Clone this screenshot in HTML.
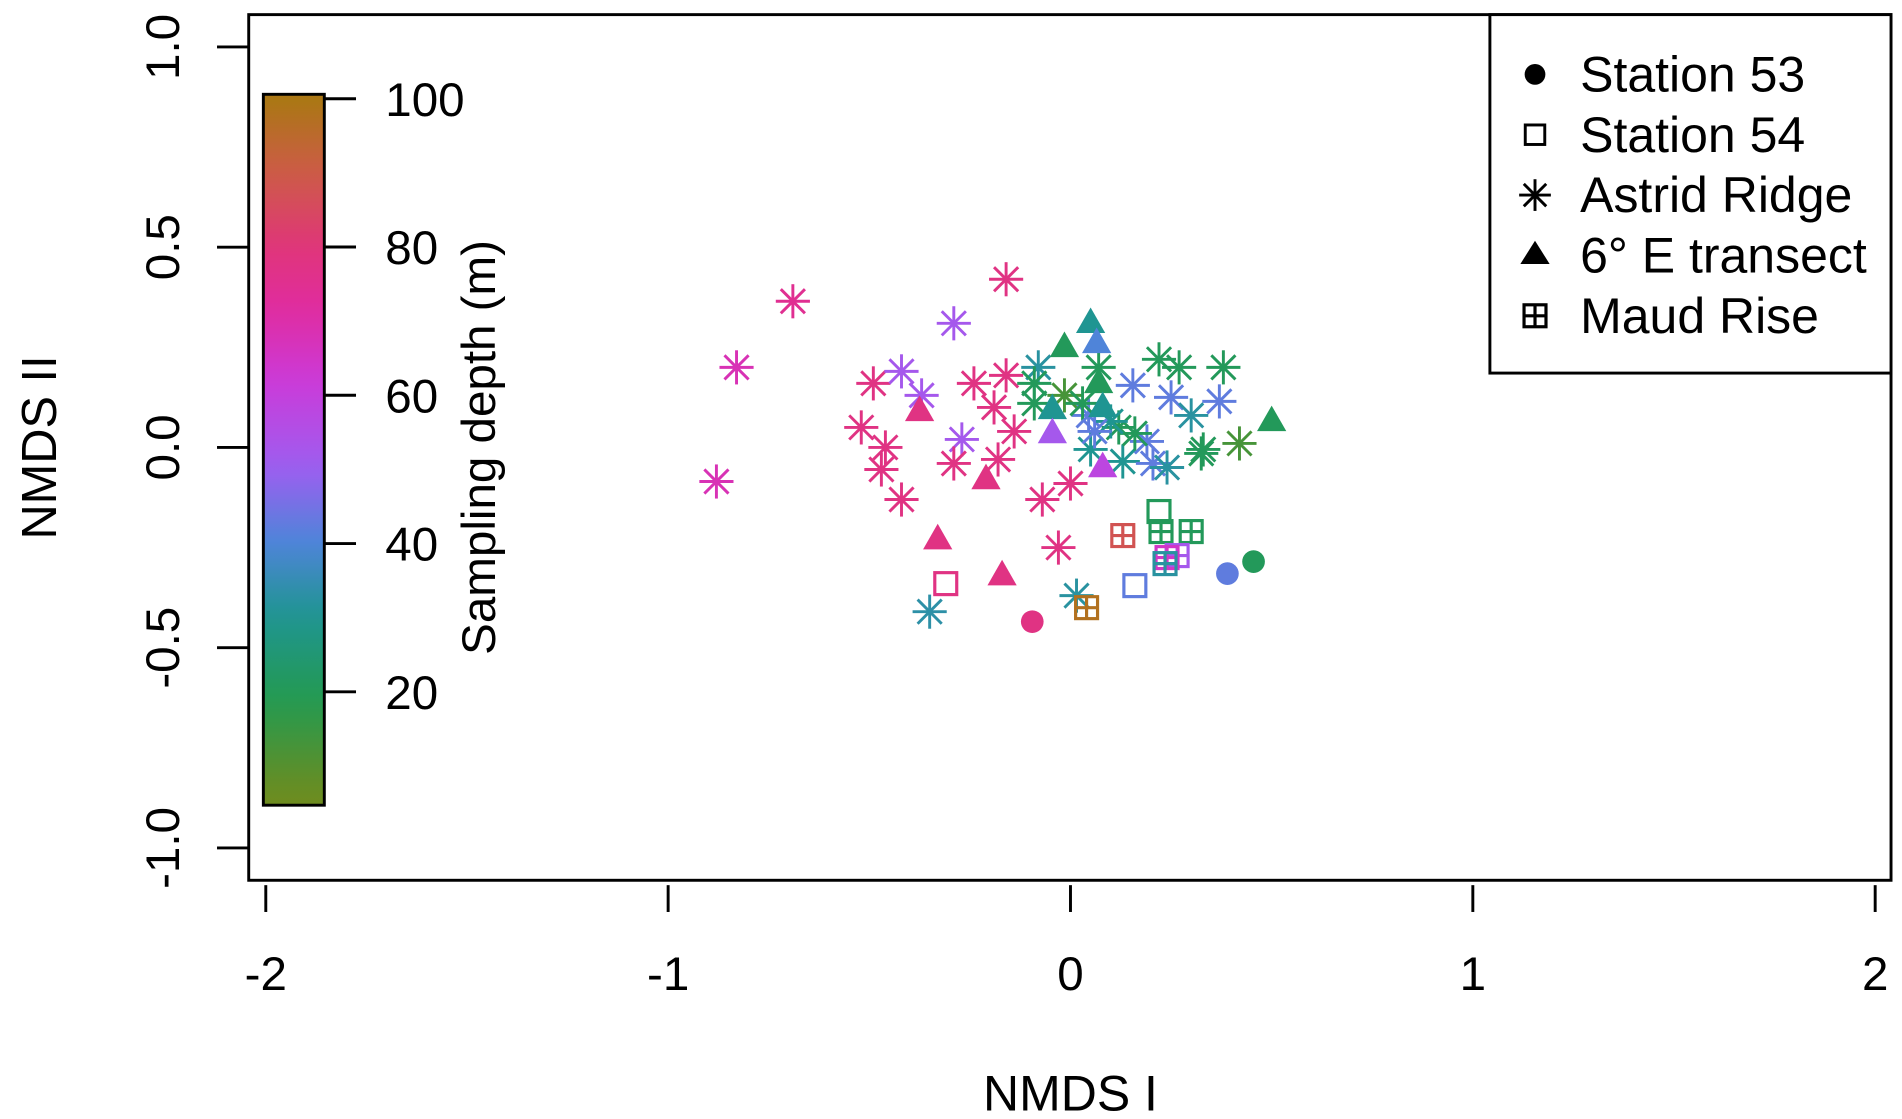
<!DOCTYPE html>
<html><head><meta charset="utf-8"><style>
html,body{margin:0;padding:0;background:#fff;width:1902px;height:1119px;overflow:hidden}
svg{display:block}
text{font-family:"Liberation Sans",Arial,sans-serif;fill:#000}
</style></head><body>
<svg id="chart" width="1902" height="1119" viewBox="0 0 1560 917.8" preserveAspectRatio="none" xmlns="http://www.w3.org/2000/svg">
<defs>
<linearGradient id="cbar" x1="0" y1="1" x2="0" y2="0"></linearGradient>
</defs>
<rect x="204" y="12" width="1347" height="710" fill="none" stroke="#000" stroke-width="2.4"/>
<g id="axes"></g>
<g id="colorbar"></g>
<g id="points"></g>
<g id="legend"></g>
<text x="878" y="911" font-size="41" text-anchor="middle">NMDS I</text>
<text transform="translate(46,367) rotate(-90)" font-size="40" text-anchor="middle">NMDS II</text>
<text transform="translate(406,367) rotate(-90)" font-size="39" text-anchor="middle">Sampling depth (m)</text>
</svg>
<script>
// ---- data ----
const xTicks = [-2, -1, 0, 1, 2];
const yTicks = [-1.0, -0.5, 0.0, 0.5, 1.0];
const yTickLabels = ["-1.0", "-0.5", "0.0", "0.5", "1.0"];
const depthTicks = [20, 40, 60, 80, 100];

const astX = [-0.69,-0.16,-0.83,-0.88,-0.29,-0.49,-0.42,-0.37,-0.52,-0.46,-0.47,-0.42,-0.27,-0.24,-0.16,-0.19,-0.14,-0.29,-0.18,-0.07,0.0,-0.03,-0.35,0.015,-0.08,-0.09,-0.09,-0.015,0.07,0.22,0.27,0.38,0.155,0.25,0.37,0.30,0.33,0.42,0.325,0.05,0.13,0.19,0.205,0.24,0.12,0.16,0.045,0.10,0.03,0.06];
const astY = [0.365,0.42,0.20,-0.085,0.31,0.16,0.19,0.13,0.05,0.0,-0.055,-0.13,0.02,0.16,0.18,0.10,0.04,-0.04,-0.03,-0.13,-0.09,-0.25,-0.41,-0.37,0.20,0.16,0.11,0.13,0.20,0.22,0.20,0.20,0.155,0.125,0.115,0.08,-0.005,0.01,-0.015,-0.005,-0.035,0.015,-0.04,-0.05,0.05,0.035,0.08,0.065,0.11,0.04];
const astD = [75,78,68,68,52,78,52,52,78,78,78,78,52,78,78,78,78,78,78,78,78,78,33,32,32,20,20,12,20,20,20,20,42,42,42,32,20,12,20,30,30,42,42,32,20,20,42,30,20,42];

const triX = [0.05,0.065,-0.015,0.07,0.50,-0.375,-0.045,-0.045,0.08,-0.21,-0.33,-0.17,0.08];
const triY = [0.31,0.26,0.25,0.16,0.065,0.09,0.095,0.035,-0.05,-0.08,-0.23,-0.32,0.10];
const triD = [30,40,20,20,20,78,30,52,58,78,78,78,30];

const sqX = [-0.31,0.22,0.16];
const sqY = [-0.34,-0.16,-0.345];
const sqD = [78,20,42];

const maudX = [0.13,0.225,0.30,0.265,0.24,0.235,0.04];
const maudY = [-0.22,-0.21,-0.21,-0.27,-0.275,-0.29,-0.40];
const maudD = [88,20,20,52,65,32,98];

const circX = [-0.095,0.39,0.455];
const circY = [-0.435,-0.315,-0.285];
const circD = [78,42,20];

const legendLabels = ["Station 53","Station 54","Astrid Ridge","6° E transect","Maud Rise"];
// ---- scales ----
const NS = "http://www.w3.org/2000/svg";
const sx = v => 878 + v * 330;
const sy = v => 367 - v * 328.5;
const sd = d => 689 - d * 6.08;
const stops = [[5,[111,140,31]],[18,[36,154,79]],[30,[31,149,146]],[40,[79,132,217]],[50,[157,94,240]],[62,[204,58,216]],[72,[224,44,158]],[80,[224,53,122]],[90,[205,90,72]],[101,[168,122,16]]];
function col(d){
  if(d<=stops[0][0]) d=stops[0][0];
  for(let i=0;i<stops.length-1;i++){
    const a=stops[i],b=stops[i+1];
    if(d<=b[0]){const t=(d-a[0])/(b[0]-a[0]);
      const c=a[1].map((v,k)=>Math.round(v+(b[1][k]-v)*t));
      return `rgb(${c[0]},${c[1]},${c[2]})`;}
  }
  const c=stops[stops.length-1][1];return `rgb(${c[0]},${c[1]},${c[2]})`;
}
function mk(tag, attrs, parent){
  const e=document.createElementNS(NS,tag);
  for(const k in attrs) e.setAttribute(k,attrs[k]);
  parent.appendChild(e); return e;
}
// ---- axes ----
const axes=document.getElementById('axes');
xTicks.forEach(v=>{
  const l=mk('line',{x1:sx(v),x2:sx(v),y1:726,y2:748,stroke:'#000','stroke-width':2.4},axes);
  
  
  const t=mk('text',{x:sx(v),y:812,'font-size':39,'text-anchor':'middle'},axes);
  t.textContent=String(v);
  
  
});
yTicks.forEach((v,i)=>{
  const l=mk('line',{x1:178,x2:204,y1:sy(v),y2:sy(v),stroke:'#000','stroke-width':2.4},axes);
  
  
  const t=mk('text',{transform:`translate(147,${sy(v)}) rotate(-90)`,'font-size':39,'text-anchor':'middle'},axes);
  t.textContent=yTickLabels[i];
  
  
});
// ---- colorbar ----
const grad=document.getElementById('cbar');
for(let d=4;d<=101;d+=3){
  mk('stop',{offset:((d-4)/97).toFixed(3),'stop-color':col(d)},grad);
}
const cb=document.getElementById('colorbar');
const cr=mk('rect',{x:216,y:sd(100.6),width:50,height:sd(4.7)-sd(100.6),fill:'url(#cbar)',stroke:'#000','stroke-width':2.4},cb);


depthTicks.forEach(d=>{
  const l=mk('line',{x1:266,x2:292,y1:sd(d),y2:sd(d),stroke:'#000','stroke-width':2.4},cb);
  
  
  const t=mk('text',{x:316,y:sd(d)+14,'font-size':39},cb);
  t.textContent=String(d);
  
  
});
// ---- markers ----
function star(g,x,y,c,r,w){
  const e=mk('g',{stroke:c,'stroke-width':w||2.4,fill:'none'},g);
  [[0,1],[1,0],[0.707,0.707],[0.707,-0.707]].forEach(([a,b])=>{
    mk('line',{x1:x-a*r,y1:y-b*r,x2:x+a*r,y2:y+b*r},e);
  });
  return e;
}
function tri(g,x,y,c){
  return mk('polygon',{points:`${x},${y-13} ${x-12},${y+8} ${x+12},${y+8}`,fill:c},g);
}
function sq(g,x,y,c,grid){
  const e=mk('g',{stroke:c,'stroke-width':2.6,fill:'none'},g);
  mk('rect',{x:x-9,y:y-9,width:18,height:18},e);
  if(grid){mk('line',{x1:x,x2:x,y1:y-9,y2:y+9},e);mk('line',{x1:x-9,x2:x+9,y1:y,y2:y},e);}
  return e;
}
function circ(g,x,y,c){return mk('circle',{cx:x,cy:y,r:9.3,fill:c},g);}
const pts=document.getElementById('points');
astX.forEach((v,i)=>{const e=star(pts,sx(v),sy(astY[i]),col(astD[i]),14);
  
  });
triX.forEach((v,i)=>{const e=tri(pts,sx(v),sy(triY[i]),col(triD[i]));
  
  });
sqX.forEach((v,i)=>{const e=sq(pts,sx(v),sy(sqY[i]),col(sqD[i]),false);
  
  });
maudX.forEach((v,i)=>{const e=sq(pts,sx(v),sy(maudY[i]),col(maudD[i]),true);
  
  });
circX.forEach((v,i)=>{const e=circ(pts,sx(v),sy(circY[i]),col(circD[i]));
  
  });
// ---- legend ----
const lg=document.getElementById('legend');
mk('rect',{x:1222,y:12,width:329,height:294,fill:'#fff',stroke:'#000','stroke-width':2.4},lg);
legendLabels.forEach((lab,i)=>{
  const y=61+i*49.5;
  const g=mk('g',{},lg);
  
  
  if(i===0) mk('circle',{cx:1259,cy:y,r:8.5,fill:'#000'},g);
  if(i===1) mk('rect',{x:1251,y:y-8,width:16,height:16,fill:'none',stroke:'#000','stroke-width':2.4},g);
  if(i===2) star(g,1259,y,'#000',13,2.4);
  if(i===3) mk('polygon',{points:`1259,${y-12} 1247,${y+7} 1271,${y+7}`,fill:'#000'},g);
  if(i===4) sq(g,1259,y,'#000',true);
  const t=mk('text',{x:1296,y:y+14,'font-size':41,textLength:0},g);
  t.removeAttribute('textLength');
  t.textContent=lab;
});
</script>
</body></html>
